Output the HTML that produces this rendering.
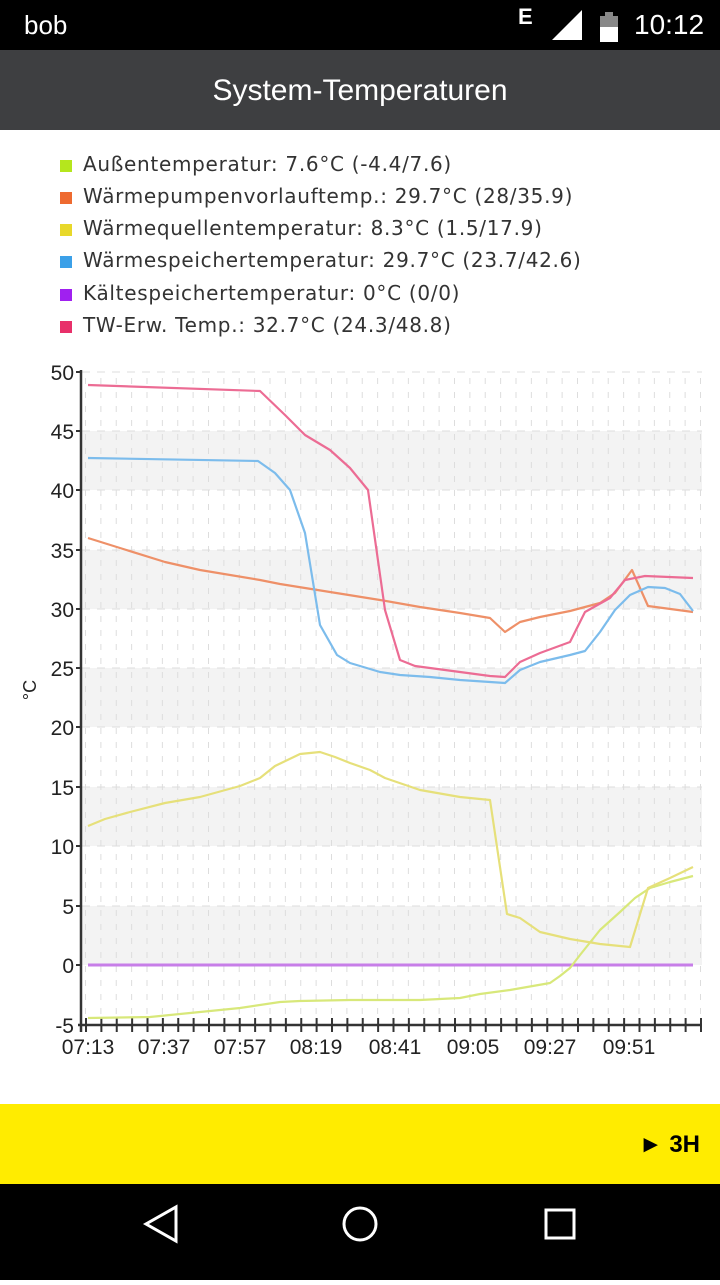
<!DOCTYPE html>
<html><head><meta charset="utf-8"><style>
body{margin:0;width:720px;height:1280px;position:relative;background:#fff;font-family:"Liberation Sans",sans-serif;overflow:hidden}
.sb{position:absolute;left:0;top:0;width:720px;height:50px;background:#000;color:#fff}
.tb{position:absolute;left:0;top:50px;width:720px;height:80px;background:#3e3f41;color:#fff;font-size:30px;text-align:center;line-height:82px}
.yb{position:absolute;left:0;top:1104px;width:720px;height:80px;background:#ffec00;font-weight:bold;font-size:24px}
.nb{position:absolute;left:0;top:1184px;width:720px;height:96px;background:#000}
.lg{position:absolute;left:60px;font-family:"DejaVu Sans",sans-serif;font-size:20px;letter-spacing:0.7px;color:#333}
.lg i{display:inline-block;width:12px;height:12px;margin-right:11px;vertical-align:-1px}
</style></head><body>
<div class="sb"><span style="position:absolute;left:24px;top:10px;font-size:26px">bob</span>
<span style="position:absolute;left:518px;top:4px;font-size:22px;font-weight:bold">E</span>
<svg style="position:absolute;left:550px;top:10px" width="80" height="32"><polygon points="2,30 32,30 32,0" fill="#fff"/><rect x="50" y="6" width="18" height="26" fill="#888"/><rect x="50" y="17" width="18" height="15" fill="#fff"/><rect x="55" y="2" width="8" height="4" fill="#888"/></svg>
<span style="position:absolute;left:634px;top:9px;font-size:28px">10:12</span></div>
<div class="tb">System-Temperaturen</div>
<div class="lg" style="top:152px"><i style="background:#b5e61d"></i>Außentemperatur: 7.6°C (-4.4/7.6)</div>
<div class="lg" style="top:184px"><i style="background:#ee6a30"></i>Wärmepumpenvorlauftemp.: 29.7°C (28/35.9)</div>
<div class="lg" style="top:216px"><i style="background:#e8d82a"></i>Wärmequellentemperatur: 8.3°C (1.5/17.9)</div>
<div class="lg" style="top:248px"><i style="background:#3ba0e8"></i>Wärmespeichertemperatur: 29.7°C (23.7/42.6)</div>
<div class="lg" style="top:281px"><i style="background:#a020f0"></i>Kältespeichertemperatur: 0°C (0/0)</div>
<div class="lg" style="top:313px"><i style="background:#e8306a"></i>TW-Erw. Temp.: 32.7°C (24.3/48.8)</div>
<svg style="position:absolute;left:0;top:0" width="720" height="1100">
<defs>
<pattern id="vg" x="85" y="0" width="15.375" height="1100" patternUnits="userSpaceOnUse"><line x1="0.5" y1="0" x2="0.5" y2="1100" stroke="#ddd" stroke-dasharray="6,8"/></pattern>
<pattern id="xt" x="85" y="0" width="15.375" height="1100" patternUnits="userSpaceOnUse"><line x1="1" y1="0" x2="1" y2="1100" stroke="#333" stroke-width="2"/></pattern>
</defs>
<g fill="#f3f3f3"><rect x="82" y="431" width="620" height="59"/><rect x="82" y="550" width="620" height="59"/><rect x="82" y="668" width="620" height="59"/><rect x="82" y="787" width="620" height="59"/><rect x="82" y="906" width="620" height="59"/></g>
<rect x="85" y="372" width="617" height="653" fill="url(#vg)"/>
<g stroke="#ddd" stroke-dasharray="8,7"><line x1="82" y1="372" x2="702" y2="372"/><line x1="82" y1="431" x2="702" y2="431"/><line x1="82" y1="490" x2="702" y2="490"/><line x1="82" y1="550" x2="702" y2="550"/><line x1="82" y1="609" x2="702" y2="609"/><line x1="82" y1="668" x2="702" y2="668"/><line x1="82" y1="727" x2="702" y2="727"/><line x1="82" y1="787" x2="702" y2="787"/><line x1="82" y1="846" x2="702" y2="846"/><line x1="82" y1="906" x2="702" y2="906"/></g>
<rect x="85" y="1018" width="617" height="14" fill="url(#xt)"/>
<line x1="81" y1="370" x2="81" y2="1032" stroke="#333" stroke-width="2.5"/>
<line x1="78" y1="1025" x2="702" y2="1025" stroke="#333" stroke-width="2.5"/>
<g stroke="#333" stroke-width="2"><line x1="76" y1="372" x2="82" y2="372"/><line x1="76" y1="431" x2="82" y2="431"/><line x1="76" y1="490" x2="82" y2="490"/><line x1="76" y1="550" x2="82" y2="550"/><line x1="76" y1="609" x2="82" y2="609"/><line x1="76" y1="668" x2="82" y2="668"/><line x1="76" y1="727" x2="82" y2="727"/><line x1="76" y1="787" x2="82" y2="787"/><line x1="76" y1="846" x2="82" y2="846"/><line x1="76" y1="906" x2="82" y2="906"/><line x1="76" y1="965" x2="82" y2="965"/></g>
<g font-family="Liberation Sans Narrow,Liberation Sans,sans-serif" font-size="21" fill="#222" text-anchor="end">
<text x="74" y="380">50</text><text x="74" y="439">45</text><text x="74" y="498">40</text><text x="74" y="558">35</text><text x="74" y="617">30</text><text x="74" y="676">25</text><text x="74" y="735">20</text><text x="74" y="795">15</text><text x="74" y="854">10</text><text x="74" y="914">5</text><text x="74" y="973">0</text><text x="74" y="1033">-5</text>
</g>
<text transform="translate(36,690) rotate(-90)" font-size="18" fill="#222" text-anchor="middle">°C</text>
<g font-family="Liberation Sans Narrow,Liberation Sans,sans-serif" font-size="21" fill="#222" text-anchor="middle">
<text x="88" y="1054">07:13</text><text x="164" y="1054">07:37</text><text x="240" y="1054">07:57</text><text x="316" y="1054">08:19</text><text x="395" y="1054">08:41</text><text x="473" y="1054">09:05</text><text x="550" y="1054">09:27</text><text x="629" y="1054">09:51</text>
</g>
<g fill="none" stroke-width="2.2" stroke-linejoin="round">
<line x1="88" y1="965" x2="693" y2="965" stroke="#c77ee8" stroke-width="3"/>
<polyline stroke="#d8e87a" points="88,1018 150,1017 200,1012 240,1008 280,1002 300,1001 350,1000 420,1000 460,998 480,994 510,990 550,983 560,976 570,968 580,955 600,930 620,912 635,898 650,888 670,882 693,876"/>
<polyline stroke="#e6e07a" points="88,826 105,819 130,812 165,803 200,797 240,786 260,778 275,766 300,754 320,752 335,757 350,763 370,770 385,778 420,790 460,797 490,800 507,914 520,918 540,932 570,939 600,944 630,947 648,888 670,878 693,867"/>
<polyline stroke="#ee9068" points="88,538 120,548 165,562 200,570 260,580 280,584 330,592 380,600 420,607 460,613 490,618 505,632 520,622 540,617 570,611 600,603 615,593 632,570 648,606 693,612"/>
<polyline stroke="#7cbcec" points="88,458 258,461 275,473 290,490 305,533 320,625 337,655 350,663 380,672 400,675 430,677 460,680 490,682 505,683 520,670 540,662 570,655 585,651 600,632 615,610 630,595 648,587 665,588 680,594 693,611"/>
<polyline stroke="#ec6c94" points="88,385 260,391 285,415 305,435 330,450 350,468 368,490 385,610 400,660 415,666 460,672 490,676 505,677 520,662 540,653 570,642 585,612 610,598 625,580 645,576 693,578"/>
</g>
</svg>
<div class="yb"><span style="position:absolute;right:20px;top:27px">► 3H</span></div>
<div class="nb"><svg width="720" height="96">
<polygon points="176,23 176,57 146,40" fill="none" stroke="#fff" stroke-width="3"/>
<circle cx="360" cy="40" r="16" fill="none" stroke="#fff" stroke-width="3"/>
<rect x="546" y="26" width="28" height="28" fill="none" stroke="#fff" stroke-width="3"/>
</svg></div>
</body></html>
